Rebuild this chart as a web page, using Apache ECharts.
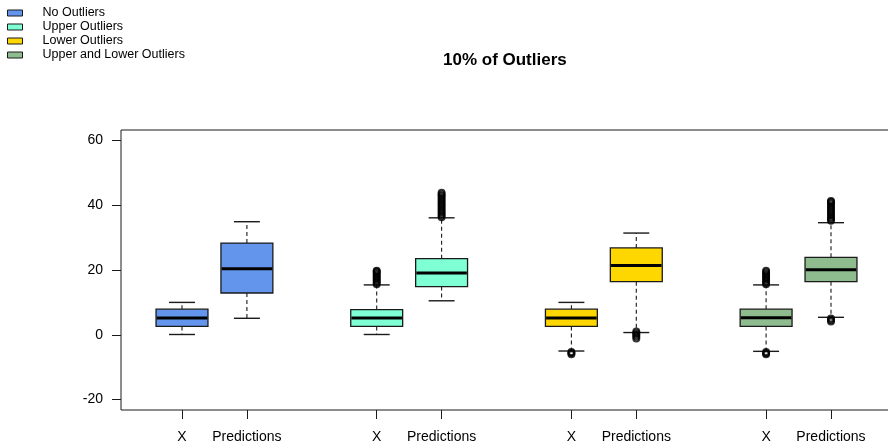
<!DOCTYPE html>
<html>
<head>
<meta charset="utf-8">
<script src="https://cdn.jsdelivr.net/npm/echarts@6/dist/echarts.min.js"></script>
<style>
  html, body { margin: 0; padding: 0; background: #ffffff; }
  #chart { width: 888px; height: 447px; }
</style>
</head>
<body>
<div id="chart"></div>
<script>
// Scenarios shown side by side, one colour each
const scenarios = ['No Outliers', 'Upper Outliers', 'Lower Outliers', 'Upper and Lower Outliers'];
const colors = ['#6495ED', '#7FFFD4', '#FFD700', '#8FBC8F'];
const boxLabels = ['X', 'Predictions'];
const yTicks = [-20, 0, 20, 40, 60];

// Five-number summaries: [lower whisker, Q1, median, Q3, upper whisker]
const statsX = [
  [0.1, 2.6, 5.2, 7.9, 10.0],
  [0.1, 2.6, 5.2, 7.8, 15.4],
  [-5.0, 2.6, 5.2, 7.9, 10.0],
  [-5.1, 2.6, 5.3, 7.9, 15.4]
];
const statsPred = [
  [5.1, 12.9, 20.4, 28.3, 34.9],
  [10.5, 14.9, 19.1, 23.5, 36.1],
  [0.7, 16.4, 21.4, 26.8, 31.4],
  [5.4, 16.4, 20.1, 23.9, 34.6]
];

// Points beyond the whiskers
const outliersX = [
  [],
  [15.6, 16.1, 16.6, 17.1, 17.6, 18.1, 18.6, 19.1, 19.5, 19.8],
  [-5.3, -5.6, -6.0],
  [15.6, 16.1, 16.7, 17.2, 17.8, 18.3, 18.8, 19.3, 19.8, -5.3, -5.7, -6.0]
];
const outliersPred = [
  [],
  [36.3, 36.8, 37.4, 38.0, 38.6, 39.2, 39.8, 40.4, 41.0, 41.6, 42.2, 42.8, 43.3, 43.8],
  [1.0, 0.5, 0.0, -0.5, -1.1],
  [35.2, 35.7, 36.3, 36.9, 37.5, 38.1, 38.7, 39.3, 39.9, 40.5, 41.0, 41.3, 5.0, 4.6, 4.1]
];

// Box slots: two boxes per scenario, one empty slot between scenarios
const slot = (g, m) => g * 3 + m + 1;
const tickPositions = [];
scenarios.forEach((_, g) => { tickPositions.push(slot(g, 0), slot(g, 1)); });

const FONT = "'Liberation Sans', Arial, Helvetica, sans-serif";
const INK = '#1a1a1a';

function renderBox(params, api) {
  const x = api.value(0);
  const lo = api.coord([x, api.value(1)]);
  const q1 = api.coord([x, api.value(2)]);
  const med = api.coord([x, api.value(3)]);
  const q3 = api.coord([x, api.value(4)]);
  const hi = api.coord([x, api.value(5)]);
  const w = api.size([0.8, 0])[0];
  const cw = api.size([0.4, 0])[0];
  const cx = lo[0];
  const edge = { stroke: INK, lineWidth: 1.4 };
  const dash = { stroke: INK, lineWidth: 1.1, lineDash: [4, 3] };
  return {
    type: 'group',
    children: [
      { type: 'line', shape: { x1: cx, y1: q3[1], x2: cx, y2: hi[1] }, style: dash },
      { type: 'line', shape: { x1: cx, y1: q1[1], x2: cx, y2: lo[1] }, style: dash },
      { type: 'line', shape: { x1: cx - cw / 2, y1: hi[1], x2: cx + cw / 2, y2: hi[1] }, style: edge },
      { type: 'line', shape: { x1: cx - cw / 2, y1: lo[1], x2: cx + cw / 2, y2: lo[1] }, style: edge },
      { type: 'rect', shape: { x: cx - w / 2, y: q3[1], width: w, height: q1[1] - q3[1] },
        style: { fill: api.visual('color'), stroke: INK, lineWidth: 1.3 } },
      { type: 'line', shape: { x1: cx - w / 2 + 0.7, y1: med[1], x2: cx + w / 2 - 0.7, y2: med[1] },
        style: { stroke: '#000', lineWidth: 3 } }
    ]
  };
}

const series = [];
scenarios.forEach((name, g) => {
  series.push({
    name: name,
    type: 'custom',
    renderItem: renderBox,
    itemStyle: { color: colors[g] },
    encode: { x: 0, y: [1, 2, 3, 4, 5] },
    data: [
      [slot(g, 0)].concat(statsX[g]),
      [slot(g, 1)].concat(statsPred[g])
    ],
    z: 2
  });
});
scenarios.forEach((name, g) => {
  const pts = outliersX[g].map(v => [slot(g, 0), v])
    .concat(outliersPred[g].map(v => [slot(g, 1), v]));
  series.push({
    name: name + ' outliers',
    type: 'scatter',
    symbol: 'circle',
    symbolSize: 6,
    itemStyle: { color: 'rgba(0,0,0,0)', borderColor: '#000', borderWidth: 2 },
    data: pts,
    silent: true,
    z: 3
  });
});

const chart = echarts.init(document.getElementById('chart'), null, { renderer: 'canvas' });
chart.setOption({
  animation: false,
  backgroundColor: '#ffffff',
  title: {
    text: '10% of Outliers',
    left: 438,
    top: 47,
    textStyle: { fontFamily: FONT, fontSize: 17, fontWeight: 'bold', color: '#000' }
  },
  legend: {
    orient: 'vertical',
    left: 7,
    top: 6,
    padding: 0,
    itemWidth: 15,
    itemHeight: 6,
    itemGap: 0,
    icon: 'rect',
    selectedMode: false,
    data: scenarios.map((n, i) => ({
      name: n,
      itemStyle: { color: colors[i], borderColor: INK, borderWidth: 1 }
    })),
    textStyle: { fontFamily: FONT, fontSize: 12.5, color: '#000', lineHeight: 14, padding: [0, 0, 0, 15] }
  },
  grid: {
    left: 121,
    top: 130,
    width: 771,
    height: 280,
    outerBoundsMode: 'none',
    show: true,
    borderColor: INK,
    borderWidth: 1,
    backgroundColor: 'transparent'
  },
  xAxis: {
    type: 'value',
    min: 0.06,
    max: 11.94,
    splitLine: { show: false },
    axisLine: { show: false, onZero: false },
    axisTick: { show: true, length: 9, customValues: tickPositions, lineStyle: { color: INK, width: 1 } },
    axisLabel: {
      customValues: tickPositions,
      margin: 20,
      fontFamily: FONT,
      fontSize: 14,
      color: '#000',
      formatter: v => boxLabels[(Math.round(v) - 1) % 3]
    }
  },
  yAxis: {
    type: 'value',
    min: -23.2,
    max: 63.2,
    splitLine: { show: false },
    axisLine: { show: false, onZero: false },
    axisTick: { show: true, length: 9, customValues: yTicks, lineStyle: { color: INK, width: 1 } },
    axisLabel: {
      customValues: yTicks,
      margin: 18,
      fontFamily: FONT,
      fontSize: 14,
      color: '#000'
    }
  },
  series: series
});
</script>
</body>
</html>
